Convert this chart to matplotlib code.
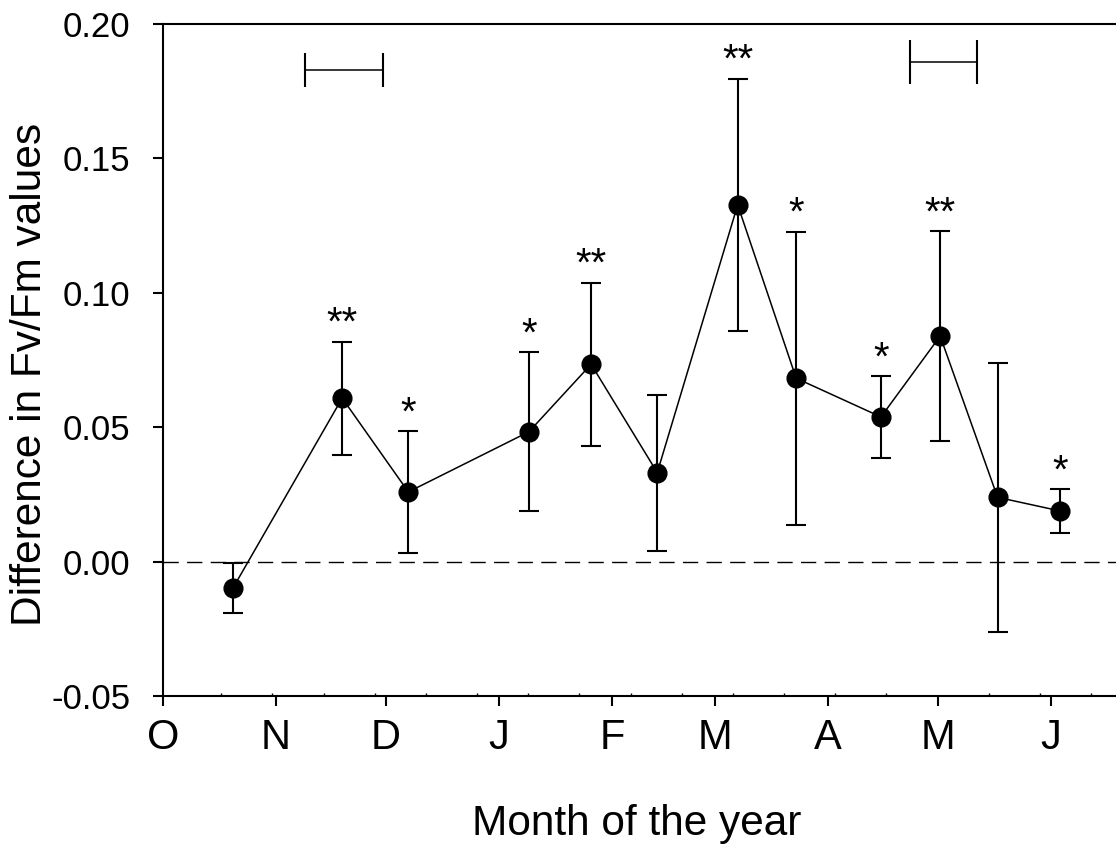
import matplotlib
matplotlib.use("Agg")
import matplotlib.pyplot as plt

plt.rcParams['font.family'] = ['Liberation Sans', 'DejaVu Sans']
plt.rcParams['axes.unicode_minus'] = False

# sampling dates, in days after 1 October
days = [19.2, 49.1, 67.2, 100.2, 117.2, 135.3, 157.3, 173.3, 196.5, 212.7, 228.4, 245.6]
diff = [-0.0099, 0.0608, 0.0259, 0.0483, 0.0734, 0.0331, 0.1327, 0.0682, 0.0538, 0.0839, 0.0239, 0.0188]
err = [0.0093, 0.0210, 0.0226, 0.0296, 0.0303, 0.0290, 0.0470, 0.0545, 0.0151, 0.0390, 0.0500, 0.0081]
signif = ['', '**', '*', '*', '**', '', '**', '*', '*', '**', '', '*']

# the two periods marked at the top
period_mid = [49.6, 213.6]
period_half = [10.6, 9.1]
period_y = [0.183, 0.186]
period_cap = [12.5, 15.5]

month_days = [0, 31, 61, 92, 123, 151, 182, 212, 243]
month_labels = ['O', 'N', 'D', 'J', 'F', 'M', 'A', 'M', 'J']
yticks = [-0.05, 0.0, 0.05, 0.10, 0.15, 0.20]

fig = plt.figure(figsize=(11.16, 8.44), dpi=100)
ax = fig.add_axes([0.1458, 0.1754, 0.8542, 0.7962])

ax.axhline(0, color='black', lw=1.0, linestyle=(0, (11, 6)), zorder=1)

ax.errorbar(days, diff, yerr=err, fmt='o-', color='black', ms=13.5, lw=1.1,
            elinewidth=1.5, capsize=7.5, capthick=1.5, zorder=3)

for d, v, e, s in zip(days, diff, err, signif):
    if s:
        ax.annotate(s, xy=(d, v + e), xytext=(0, 5), textcoords='offset points',
                    ha='center', va='baseline', fontsize=29)

for m, h, y, c in zip(period_mid, period_half, period_y, period_cap):
    ax.errorbar([m], [y], xerr=[h], fmt='none', ecolor='black', elinewidth=1.1,
                capsize=c, capthick=1.5)

ax.set_xlim(0, 260.8)
ax.set_ylim(-0.05, 0.20)

ax.set_xticks(month_days)
ax.set_xticklabels(month_labels, fontsize=30)
ax.set_xticks([16 + 14 * k for k in range(18)], minor=True)
ax.set_yticks(yticks)
ax.set_yticklabels(['%.2f' % t for t in yticks], fontsize=25)

ax.tick_params(axis='both', which='major', direction='out', length=7.2, width=1.5)
ax.tick_params(axis='x', which='major', pad=9)
ax.tick_params(axis='y', which='major', pad=16)
ax.tick_params(axis='x', which='minor', direction='in', length=2, width=1.0)

ax.spines['right'].set_visible(False)
for sp in ['left', 'bottom', 'top']:
    ax.spines[sp].set_linewidth(1.5)

ax.set_xlabel('Month of the year', fontsize=30.5, va='center')
ax.xaxis.set_label_coords(0.497, -0.191)
ax.set_ylabel('Difference in Fv/Fm values', fontsize=30.5, va='center')
ax.yaxis.set_label_coords(-0.139, 0.478)

plt.savefig('out.png', dpi=100)
